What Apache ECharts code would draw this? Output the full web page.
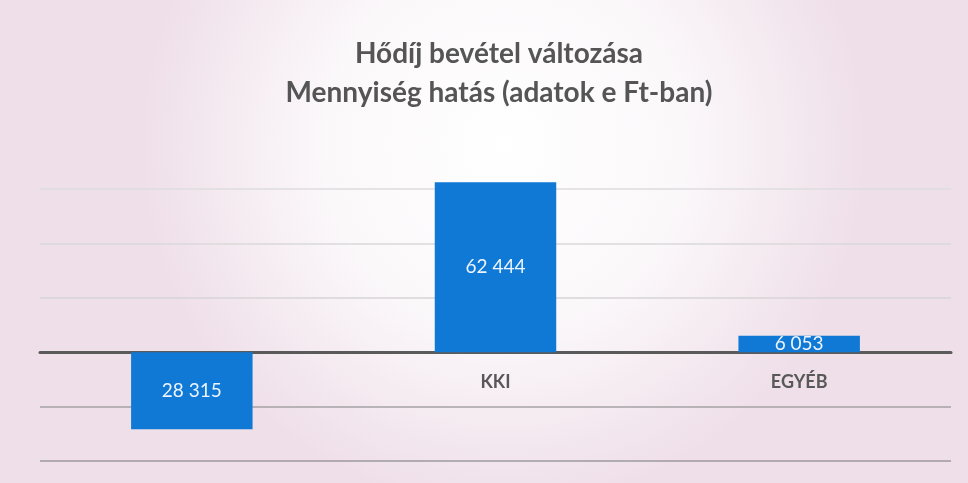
<!DOCTYPE html>
<html>
<head>
<meta charset="utf-8">
<script src="https://cdn.jsdelivr.net/npm/echarts@6/dist/echarts.min.js"></script>
<style>
  html, body { margin: 0; padding: 0; }
  #chart { width: 968px; height: 483px; }
</style>
</head>
<body>
<div id="chart"></div>
<script>
const categories = ["LAKOSSÁG", "KKI", "EGYÉB"];
const values = [-28315, 62444, 6053];
const titleLines = ["Hődíj bevétel változása", "Mennyiség hatás (adatok e Ft-ban)"];

// gridline shades, bottom to top (scan makes the lower ones darker)
const gridColors = ["#9c9a9c", "#a4a2a4", "#606060", "#d6d4d6", "#dad8da", "#dedcde"];

const fmt = (v) => String(Math.abs(v)).replace(/\B(?=(\d{3})+(?!\d))/g, " ");

const chart = echarts.init(document.getElementById("chart"));
chart.setOption({
  backgroundColor: new echarts.graphic.RadialGradient(0.52, 0.3, 0.75, [
    { offset: 0, color: "#ffffff" },
    { offset: 0.5, color: "#fbf8fa" },
    { offset: 1, color: "#efdfe9" },
  ]),
  title: {
    text: titleLines.join("\n"),
    left: 494,
    top: 29,
    textAlign: "center",
    textStyle: {
      fontFamily: "Lato",
      fontWeight: "bold",
      fontSize: 28,
      lineHeight: 39,
      color: "#555555",
    },
  },
  grid: {
    left: 40,
    right: 17,
    top: 189,
    bottom: 22,
    containLabel: false,
    outerBoundsMode: "none",
  },
  xAxis: {
    type: "category",
    data: categories,
    axisLine: {
      onZero: true,
      lineStyle: { color: "#5a5a5a", width: 3 },
    },
    axisTick: { show: false },
    axisLabel: {
      margin: -88,
      fontFamily: "Lato",
      fontWeight: "bold",
      fontSize: 18,
      color: "#585858",
    },
  },
  yAxis: {
    type: "value",
    min: -40000,
    max: 60000,
    interval: 20000,
    axisLabel: { show: false },
    axisLine: { show: false },
    axisTick: { show: false },
    splitLine: {
      lineStyle: { color: gridColors, width: 1.5 },
    },
  },
  series: [
    {
      type: "bar",
      data: values,
      barWidth: "40%",
      clip: false,
      itemStyle: { color: "#0f79d5" },
      label: {
        show: true,
        position: "inside",
        fontFamily: "Lato",
        fontSize: 19,
        color: "#eef4ff",
        formatter: (p) => fmt(p.value),
      },
    },
  ],
});
</script>
</body>
</html>
